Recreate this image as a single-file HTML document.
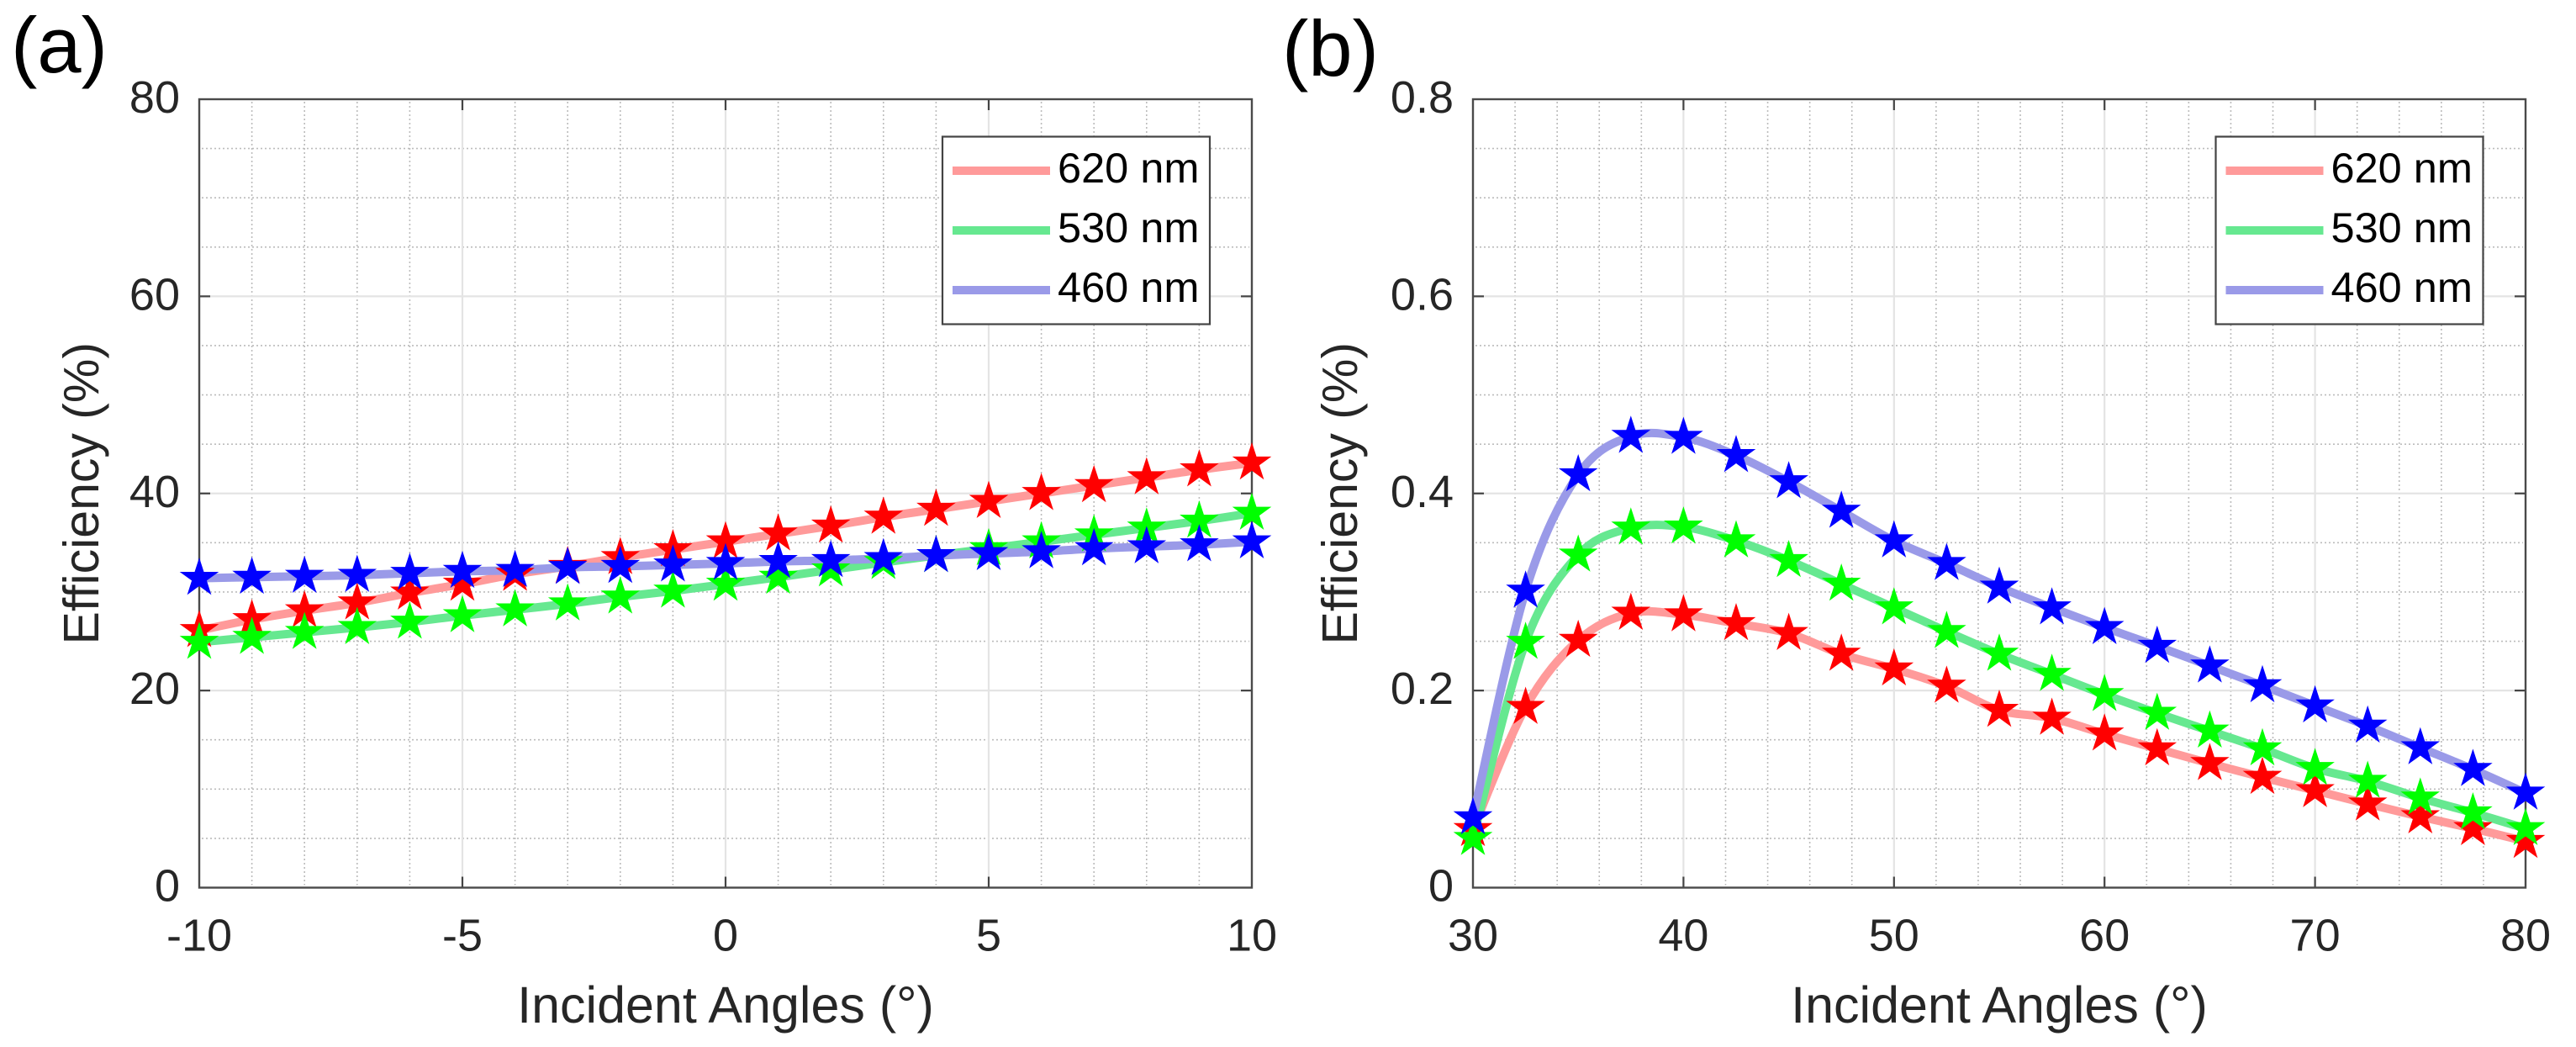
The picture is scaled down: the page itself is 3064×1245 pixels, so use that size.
<!DOCTYPE html>
<html lang="en">
<head>
<meta charset="utf-8">
<title>Efficiency vs Incident Angles</title>
<style>
html,body{margin:0;padding:0;background:#fff;width:3064px;height:1245px;overflow:hidden}
svg{display:block}
text{font-family:"Liberation Sans",sans-serif}
</style>
</head>
<body>
<svg id="figure" xmlns="http://www.w3.org/2000/svg" width="3064" height="1245" viewBox="0 0 3064 1245"></svg>
<script>
// Shared series
const seriesNames = ['620 nm', '530 nm', '460 nm'];

// Panel (a) data
const anglesA = [-10,-9,-8,-7,-6,-5,-4,-3,-2,-1,0,1,2,3,4,5,6,7,8,9,10];
const red620A = [26.1,27.2,28.1,28.9,29.9,30.8,31.8,32.6,33.5,34.3,35.1,35.9,36.7,37.6,38.4,39.2,40.0,40.8,41.6,42.4,43.1];
const green530A = [24.9,25.4,25.9,26.4,26.95,27.6,28.2,28.8,29.5,30.1,30.8,31.5,32.25,33.0,33.7,34.4,35.1,35.8,36.5,37.2,38.0];
const blue460A = [31.4,31.5,31.6,31.7,31.9,32.1,32.2,32.5,32.6,32.75,32.9,33.1,33.2,33.4,33.7,33.9,34.1,34.4,34.6,34.8,35.1];
const xTicksA = [-10,-5,0,5,10];
const yTicksA = [0,20,40,60,80];
const yTickLabelsA = ['0','20','40','60','80'];

// Panel (b) data
const anglesB = [30,32.5,35,37.5,40,42.5,45,47.5,50,52.5,55,57.5,60,62.5,65,67.5,70,72.5,75,77.5,80];
const red620B = [0.059,0.183,0.251,0.2785,0.277,0.268,0.258,0.237,0.222,0.2045,0.18,0.172,0.156,0.141,0.126,0.112,0.0985,0.085,0.072,0.060,0.047];
const green530B = [0.050,0.249,0.3375,0.365,0.366,0.352,0.332,0.308,0.284,0.26,0.237,0.2165,0.196,0.177,0.159,0.141,0.121,0.108,0.091,0.076,0.060];
const blue460B = [0.071,0.301,0.419,0.458,0.457,0.4385,0.412,0.382,0.352,0.329,0.305,0.284,0.264,0.245,0.225,0.205,0.1845,0.164,0.142,0.120,0.096];
const xTicksB = [30,40,50,60,70,80];
const yTicksB = [0,0.2,0.4,0.6,0.8];
const yTickLabelsB = ['0','0.2','0.4','0.6','0.8'];

const NS = 'http://www.w3.org/2000/svg';
const figure = document.getElementById('figure');
const lineColors = ['#ff9a9a', '#66e890', '#9a9ae8'];
const starColors = ['#ff0000', '#00ff00', '#0000ff'];

function make(parent, tag, attrs, content) {
  const el = document.createElementNS(NS, tag);
  for (const k in attrs) el.setAttribute(k, attrs[k]);
  if (content !== undefined) el.textContent = content;
  parent.appendChild(el);
  return el;
}

function splinePath(xs, ys) {
  let d = 'M' + xs[0].toFixed(2) + ' ' + ys[0].toFixed(2);
  for (let i = 0; i < xs.length - 1; i++) {
    const a = Math.max(i - 1, 0), b = Math.min(i + 2, xs.length - 1);
    const c1x = xs[i] + (xs[i + 1] - xs[a]) / 6, c1y = ys[i] + (ys[i + 1] - ys[a]) / 6;
    const c2x = xs[i + 1] - (xs[b] - xs[i]) / 6, c2y = ys[i + 1] - (ys[b] - ys[i]) / 6;
    d += 'C' + c1x.toFixed(2) + ' ' + c1y.toFixed(2) + ' ' + c2x.toFixed(2) + ' ' + c2y.toFixed(2) + ' ' + xs[i + 1].toFixed(2) + ' ' + ys[i + 1].toFixed(2);
  }
  return d;
}

function starPoints(cx, cy, R) {
  const pts = [];
  for (let i = 0; i < 10; i++) {
    const r = i % 2 ? R * 0.382 : R;
    const t = -Math.PI / 2 + i * Math.PI / 5;
    pts.push((cx + r * Math.cos(t)).toFixed(2) + ',' + (cy + r * Math.sin(t)).toFixed(2));
  }
  return pts.join(' ');
}

function drawPanel(p) {
  const sx = v => p.left + (v - p.xMin) / (p.xMax - p.xMin) * (p.right - p.left);
  const sy = v => p.bottom - (v - p.yMin) / (p.yMax - p.yMin) * (p.bottom - p.top);

  const g = make(figure, 'g', {});
  
  

  // Minor grid
  const minor = make(g, 'g', {fill: 'none', stroke: '#bcbcbc', 'stroke-width': 1.6, 'stroke-dasharray': '2 3'});
  
  
  for (let v = p.xMin + p.xMinorStep; v < p.xMax - 1e-9; v += p.xMinorStep) {
    if (!p.xTicks.some(t => Math.abs(t - v) < 1e-9)) {
      make(minor, 'line', {x1: sx(v), x2: sx(v), y1: p.top + 3, y2: p.bottom - 3});
    }
  }
  for (let v = p.yMin + p.yMinorStep; v < p.yMax - 1e-9; v += p.yMinorStep) {
    if (!p.yTicks.some(t => Math.abs(t - v) < 1e-9)) {
      make(minor, 'line', {x1: p.left + 3, x2: p.right - 3, y1: sy(v), y2: sy(v)});
    }
  }

  // Major grid and ticks
  const major = make(g, 'g', {stroke: '#e4e4e4', 'stroke-width': 2.2});
  
  
  p.xTicks.slice(1, -1).forEach(v => make(major, 'line', {x1: sx(v), x2: sx(v), y1: p.top, y2: p.bottom}));
  p.yTicks.slice(1, -1).forEach(v => make(major, 'line', {x1: p.left, x2: p.right, y1: sy(v), y2: sy(v)}));

  const ticks = make(g, 'g', {stroke: '#444', 'stroke-width': 2.2});
  
  
  p.xTicks.slice(1, -1).forEach(v => {
    make(ticks, 'line', {x1: sx(v), x2: sx(v), y1: p.top, y2: p.top + 13});
    make(ticks, 'line', {x1: sx(v), x2: sx(v), y1: p.bottom, y2: p.bottom - 13});
  });
  p.yTicks.slice(1, -1).forEach(v => {
    make(ticks, 'line', {x1: p.left, x2: p.left + 13, y1: sy(v), y2: sy(v)});
    make(ticks, 'line', {x1: p.right, x2: p.right - 13, y1: sy(v), y2: sy(v)});
  });

  // Axes box
  const box = make(g, 'rect', {x: p.left, y: p.top, width: p.right - p.left, height: p.bottom - p.top, fill: 'none', stroke: '#4a4a4a', 'stroke-width': 2.4});
  
  

  // Tick labels
  p.xTicks.forEach(v => {
    const t = make(g, 'text', {x: sx(v), y: p.bottom + 75, 'text-anchor': 'middle', 'font-size': 54, fill: '#262626'}, String(v));
    
    
  });
  p.yTicks.forEach((v, i) => {
    const t = make(g, 'text', {x: p.left - 23, y: sy(v) + 16, 'text-anchor': 'end', 'font-size': 54, fill: '#262626'}, p.yTickLabels[i]);
    
    
  });

  // Axis titles
  const xTitle = make(g, 'text', {x: (p.left + p.right) / 2, y: 1216, 'text-anchor': 'middle', 'font-size': 61, fill: '#262626'}, 'Incident Angles (°)');
  
  
  const yMid = (p.top + p.bottom) / 2;
  const yTitle = make(g, 'text', {x: p.yTitleX, y: yMid, 'text-anchor': 'middle', 'font-size': 59, fill: '#262626', transform: 'rotate(-90 ' + p.yTitleX + ' ' + yMid + ')'}, 'Efficiency (%)');
  
  

  // Panel letter
  const letter = make(g, 'text', {x: p.letterX, y: p.letterY, 'font-size': 94, fill: '#000'}, p.letter);
  
  

  // Lines
  p.series.forEach((values, s) => {
    const line = make(g, 'path', {d: splinePath(p.angles.map(sx), values.map(sy)), fill: 'none', stroke: lineColors[s], 'stroke-width': 10, 'stroke-linejoin': 'round'});
    
    
  });

  // Stars
  p.series.forEach((values, s) => {
    const stars = make(g, 'g', {fill: starColors[s]});
    
    
    values.forEach((v, i) => {
      const star = make(stars, 'polygon', {points: starPoints(sx(p.angles[i]), sy(v), 24.5)});
      
      
    });
  });

  // Legend
  const lg = make(g, 'g', {});
  
  
  make(lg, 'rect', {x: p.legendX, y: 162.5, width: 318, height: 223, fill: '#fff', stroke: '#444', 'stroke-width': 2.2});
  seriesNames.forEach((name, s) => {
    const rowY = 203 + s * 71;
    const entry = make(lg, 'g', {});
    
    
    make(entry, 'line', {x1: p.legendX + 12, x2: p.legendX + 128, y1: rowY, y2: rowY, stroke: lineColors[s], 'stroke-width': 10});
    make(entry, 'text', {x: p.legendX + 137, y: rowY + 14, 'font-size': 50.5, fill: '#000'}, name);
  });
}

drawPanel({
  id: 'panel-a', letter: '(a)', letterX: 13, letterY: 86,
  left: 237, right: 1489, top: 118, bottom: 1055.5,
  xMin: -10, xMax: 10, yMin: 0, yMax: 80,
  xMinorStep: 1, yMinorStep: 5,
  xTicks: xTicksA, yTicks: yTicksA, yTickLabels: yTickLabelsA,
  angles: anglesA, series: [red620A, green530A, blue460A],
  yTitleX: 117, legendX: 1121
});

drawPanel({
  id: 'panel-b', letter: '(b)', letterX: 1525, letterY: 90,
  left: 1752, right: 3004, top: 118, bottom: 1055.5,
  xMin: 30, xMax: 80, yMin: 0, yMax: 0.8,
  xMinorStep: 2, yMinorStep: 0.05,
  xTicks: xTicksB, yTicks: yTicksB, yTickLabels: yTickLabelsB,
  angles: anglesB, series: [red620B, green530B, blue460B],
  yTitleX: 1614, legendX: 2635.5
});
</script>
</body>
</html>
